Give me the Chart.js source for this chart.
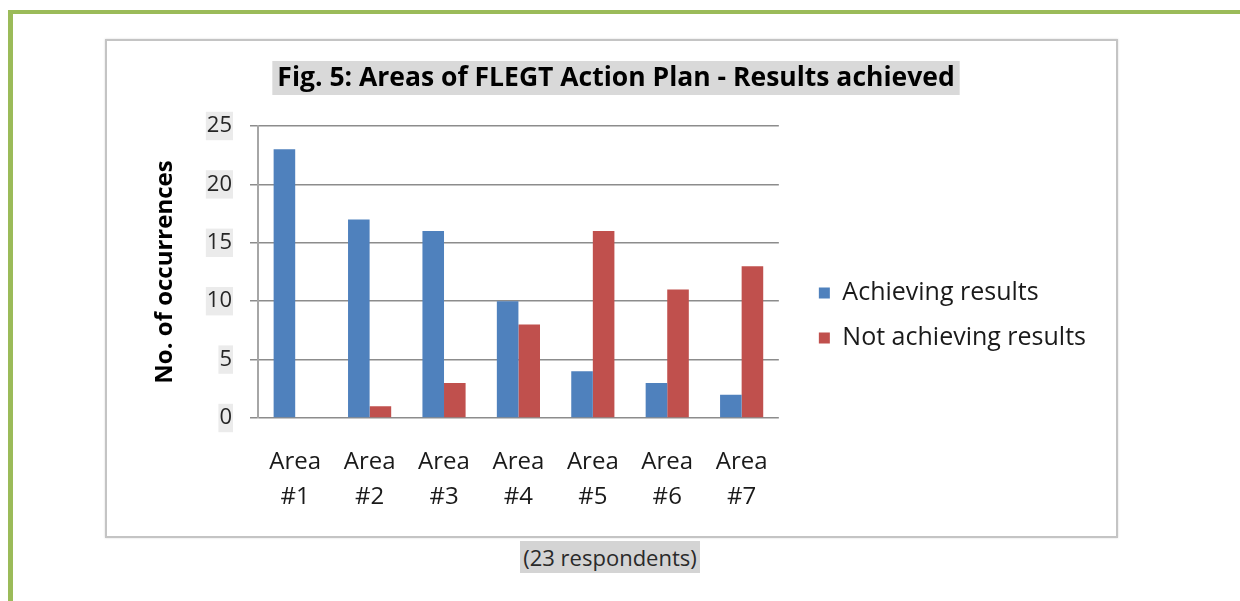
<!DOCTYPE html>
<html>
<head>
<meta charset="utf-8">
<script src="https://cdn.jsdelivr.net/npm/chart.js@4.4.1/dist/chart.umd.min.js"></script>
<style>
  html, body { margin: 0; padding: 0; background: #fff; }
  body { width: 1240px; height: 601px; position: relative; overflow: hidden; font-family: "Open Sans", sans-serif; }
  #frameTop  { position: absolute; left: 8px; top: 10px; width: 1232px; height: 4px; background: #9bbb59; }
  #frameLeft { position: absolute; left: 8px; top: 10px; width: 5px; height: 591px; background: #9bbb59; }
  #chartBox  { position: absolute; left: 105px; top: 39px; width: 1009px; height: 495px;
               border: 2px solid #c4c4c4; box-shadow: 0 0 2px #d8d8d8; }
  #chartWrap { position: absolute; left: 106px; top: 40px; width: 1009px; height: 495px; }
  #note      { position: absolute; left: 0; width: 1220px; top: 542px; text-align: center; }
  #note span { background: #d4d4d4; color: #2a2a2a; font-size: 22px; padding: 1px 3px; }
</style>
</head>
<body>
<div id="frameTop"></div>
<div id="frameLeft"></div>
<div id="chartBox"></div>
<div id="chartWrap"><canvas id="chartCanvasId"></canvas></div>
<div id="note"><span>(23 respondents)</span></div>

<script>
"use strict";

// values
let areas        = [["Area", "#1"], ["Area", "#2"], ["Area", "#3"], ["Area", "#4"], ["Area", "#5"], ["Area", "#6"], ["Area", "#7"]]
let achieving    = [23, 17, 16, 10, 4, 3, 2]
let notAchieving = [0, 1, 3, 8, 16, 11, 13]
let seriesNames  = ["Achieving results", "Not achieving results"]
let chartTitle   = "Fig. 5: Areas of FLEGT Action Plan - Results achieved"
let axisTitle    = "No. of occurrences"
let yTicks       = [0, 5, 10, 15, 20, 25]

let fontName = "'Open Sans', sans-serif"
let gridGray = "#8c8c8c"

// grey highlight behind the title text, like the source figure
const titleHighlight = {
    id: "titleHighlight",
    beforeDraw(chart) {
        const tb = chart.titleBlock
        if (!tb) return
        const ctx = chart.ctx
        ctx.save()
        ctx.font = "bold 26.5px " + fontName
        const w = ctx.measureText(chartTitle).width
        const cx = (tb.left + tb.right) / 2
        const cy = tb.top + tb.options.padding.top + 15.9
        ctx.fillStyle = "#d9d9d9"
        ctx.fillRect(cx - w / 2 - 5, cy - 17, w + 10, 34)
        ctx.restore()
    }
}

let chartCanvas  = document.getElementById('chartCanvasId')
let chartContext = chartCanvas.getContext('2d')

let myChart = new Chart(chartContext, {
    type: 'bar',
    data: {
        labels: areas,
        datasets: [
            { label: seriesNames[0], data: achieving,    backgroundColor: '#4f81bd' },
            { label: seriesNames[1], data: notAchieving, backgroundColor: '#c0504d' }
        ]
    },
    plugins: [titleHighlight],
    options: {
        responsive: true,
        maintainAspectRatio: false,
        animation: false,
        layout: { padding: { left: 30, top: 10, right: 19, bottom: 20 } },
        datasets: { bar: { barPercentage: 1, categoryPercentage: 0.58 } },
        plugins: {
            tooltip: { enabled: false },
            title: {
                display: true,
                text: chartTitle,
                color: '#000',
                font: { family: fontName, size: 26.5, weight: 'bold', lineHeight: 1.2 },
                padding: { top: 12.1, bottom: 32.1 }
            },
            legend: {
                position: 'right',
                maxWidth: 400,
                title: { display: true, text: '', font: { size: 12, lineHeight: 1.2 }, padding: 25.8 },
                labels: {
                    boxWidth: 11,
                    boxHeight: 11,
                    padding: 20,
                    color: '#1a1a1a',
                    font: { family: fontName, size: 25 }
                }
            }
        },
        scales: {
            x: {
                afterFit: (scale) => { scale.height = 97 },
                grid: { display: false, drawTicks: false },
                border: { display: false },
                ticks: {
                    color: '#1a1a1a',
                    padding: 26.5,
                    maxRotation: 0,
                    font: { family: fontName, size: 24, lineHeight: 1.46 }
                }
            },
            y: {
                min: 0,
                max: 25,
                afterBuildTicks: (scale) => { scale.ticks = yTicks.map(v => ({ value: v })) },
                afterFit: (scale) => { scale.width = 122 },
                grid: { color: gridGray, lineWidth: 1.5, tickLength: 8, tickColor: gridGray },
                border: { display: true, color: '#a6a6a6', width: 2 },
                ticks: {
                    color: '#262626',
                    padding: 18,
                    font: { family: fontName, size: 22 },
                    showLabelBackdrop: true,
                    backdropColor: '#ebebeb',
                    backdropPadding: 1
                },
                title: {
                    display: true,
                    text: axisTitle,
                    color: '#000',
                    font: { family: fontName, size: 24, weight: 'bold', lineHeight: 1.2 },
                    padding: { top: 14.6, bottom: 0 }
                }
            },
            // empty right axis: only keeps a gap between plot and legend
            gap: {
                position: 'right',
                display: true,
                grid: { display: false, drawTicks: false },
                border: { display: false },
                ticks: { display: false },
                afterFit: (scale) => { scale.width = 20 }
            }
        }
    }
})
</script>
</body>
</html>
